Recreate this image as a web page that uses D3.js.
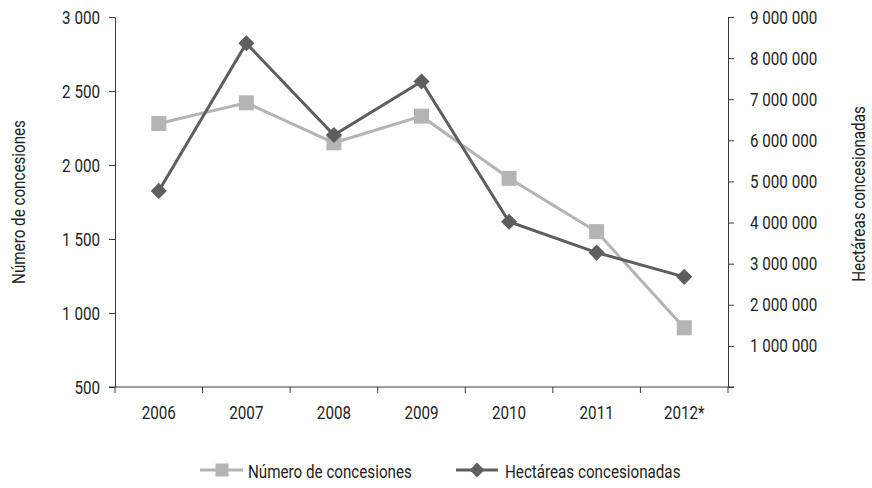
<!DOCTYPE html>
<html>
<head>
<meta charset="utf-8">
<script src="https://cdn.jsdelivr.net/npm/d3@7"></script>
<style>
  body { margin: 0; background: #fff; }
  text { font-family: Roboto, "DejaVu Sans", sans-serif; fill: #231f20; }
</style>
</head>
<body>
<div class="chart"></div>
<script>
var years = ["2006", "2007", "2008", "2009", "2010", "2011", "2012*"];
var concesiones = [2280, 2420, 2150, 2330, 1910, 1550, 900];
var hectareas = [4770000, 8360000, 6130000, 7430000, 4020000, 3270000, 2680000];
var leftTicks = [500, 1000, 1500, 2000, 2500, 3000];
var rightTicks = [0, 1000000, 2000000, 3000000, 4000000, 5000000, 6000000, 7000000, 8000000, 9000000];

var width = 872, height = 488;
var margin = { top: 17, left: 115, right: 144, bottom: 101 };
var lightGrey = "#b4b4b4", darkGrey = "#5e5e5e", axisColor = "#3a3a3a";
var fontSize = "19px";
var sx = 0.8; // the original uses a condensed face, so squeeze horizontally

var svg = d3.select(".chart").append("svg")
    .attr("width", width)
    .attr("height", height);

var x = d3.scaleBand()
    .domain(years)
    .range([margin.left, width - margin.right]);

var yLeft = d3.scaleLinear()
    .domain([500, 3000])
    .range([height - margin.bottom, margin.top]);

var yRight = d3.scaleLinear()
    .domain([0, 9000000])
    .range([height - margin.bottom, margin.top]);

function fmt(v) {
    return d3.format(",")(v).replace(/,/g, " ");
}

// narrow text placed at (px, py), optional extra rotation
function label(parent, px, py, txt, anchor, rot) {
    return parent.append("text")
        .attr("transform", "translate(" + px + "," + py + ")" + (rot ? " rotate(" + rot + ")" : "") + " scale(" + sx + ",1)")
        .attr("text-anchor", anchor || "start")
        .style("font-size", fontSize)
        .text(txt);
}

// left axis
var leftAxis = svg.append("g")
    .attr("transform", "translate(" + margin.left + ",0)")
    .call(d3.axisLeft(yLeft).tickValues(leftTicks).tickFormat(fmt).tickSize(6).tickSizeOuter(0));

// right axis
var rightAxis = svg.append("g")
    .attr("transform", "translate(" + (width - margin.right) + ",0)")
    .call(d3.axisRight(yRight).tickValues(rightTicks)
        .tickFormat(function(d) { return d === 0 ? "" : fmt(d); })
        .tickSize(6).tickSizeOuter(0));

[leftAxis, rightAxis].forEach(function(g) {
    g.select(".domain").attr("stroke", axisColor);
    g.selectAll(".tick line").attr("stroke", axisColor);
    g.selectAll(".tick text")
        .style("font-size", fontSize)
        .style("font-family", null)
        .attr("fill", "#231f20")
        .attr("transform", "scale(" + sx + ",1)");
});
leftAxis.selectAll(".tick text").attr("x", -15 / sx);
rightAxis.selectAll(".tick text").attr("x", 22 / sx);

// bottom axis, ticks on band boundaries
var xAxis = svg.append("g")
    .attr("transform", "translate(0," + (height - margin.bottom) + ")");

xAxis.append("line")
    .attr("x1", margin.left - 6)
    .attr("x2", width - margin.right + 6)
    .attr("y1", 0)
    .attr("y2", 0)
    .attr("stroke", axisColor);

var bounds = years.map(function(d) { return x(d); }).concat([x.range()[1]]);
xAxis.selectAll(".xtick")
    .data(bounds)
    .enter().append("line")
    .attr("x1", function(d) { return d; })
    .attr("x2", function(d) { return d; })
    .attr("y1", 0)
    .attr("y2", 6)
    .attr("stroke", axisColor);

years.forEach(function(d) {
    label(xAxis, x(d) + x.bandwidth() / 2, 32, d, "middle");
});

// axis titles
var midY = (margin.top + height - margin.bottom) / 2;
label(svg, 25, midY, "Número de concesiones", "middle", -90);
label(svg, 865, midY - 8, "Hectáreas concesionadas", "middle", -90);

// lines
var cx = function(i) { return x(years[i]) + x.bandwidth() / 2; };

var lineLeft = d3.line()
    .x(function(d, i) { return cx(i); })
    .y(function(d) { return yLeft(d); });

var lineRight = d3.line()
    .x(function(d, i) { return cx(i); })
    .y(function(d) { return yRight(d); });

svg.append("path")
    .datum(concesiones)
    .attr("d", lineLeft)
    .attr("fill", "none")
    .attr("stroke", lightGrey)
    .attr("stroke-width", 3);

svg.append("path")
    .datum(hectareas)
    .attr("d", lineRight)
    .attr("fill", "none")
    .attr("stroke", darkGrey)
    .attr("stroke-width", 3);

var sq = 15;
svg.selectAll(".sq")
    .data(concesiones)
    .enter().append("rect")
    .attr("x", function(d, i) { return cx(i) - sq / 2; })
    .attr("y", function(d) { return yLeft(d) - sq / 2; })
    .attr("width", sq)
    .attr("height", sq)
    .attr("fill", lightGrey);

var diamond = d3.symbol().type(d3.symbolSquare).size(130);
svg.selectAll(".dm")
    .data(hectareas)
    .enter().append("path")
    .attr("d", diamond)
    .attr("transform", function(d, i) { return "translate(" + cx(i) + "," + yRight(d) + ") rotate(45)"; })
    .attr("fill", darkGrey);

// legend
var legY = 470, legSq = 13;
svg.append("line")
    .attr("x1", 200).attr("x2", 243)
    .attr("y1", legY).attr("y2", legY)
    .attr("stroke", lightGrey).attr("stroke-width", 3);
svg.append("rect")
    .attr("x", 222 - legSq / 2).attr("y", legY - legSq / 2)
    .attr("width", legSq).attr("height", legSq)
    .attr("fill", lightGrey);
label(svg, 248, legY + 8, "Número de concesiones");

svg.append("line")
    .attr("x1", 456).attr("x2", 498)
    .attr("y1", legY).attr("y2", legY)
    .attr("stroke", darkGrey).attr("stroke-width", 3);
svg.append("path")
    .attr("d", d3.symbol().type(d3.symbolSquare).size(110))
    .attr("transform", "translate(477," + legY + ") rotate(45)")
    .attr("fill", darkGrey);
label(svg, 505, legY + 8, "Hectáreas concesionadas");
</script>
</body>
</html>
